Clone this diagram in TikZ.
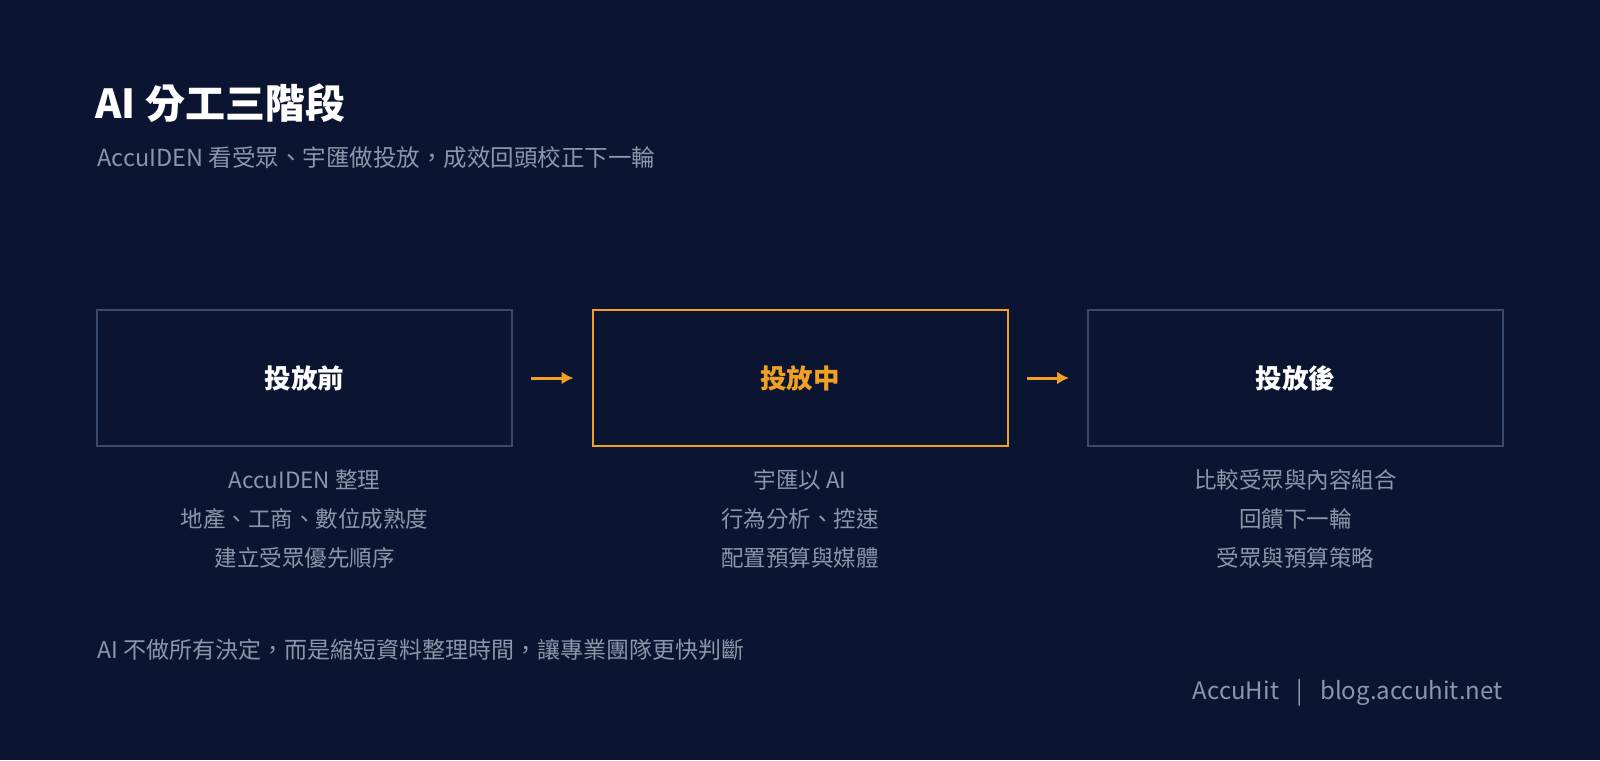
\documentclass[tikz,border=0pt]{standalone}
\usepackage{fontspec}
\setmainfont{Noto Sans CJK TC}
\usetikzlibrary{positioning}
\definecolor{bg}{HTML}{0B1531}
\definecolor{frame}{HTML}{3A4A6C}
\definecolor{accent}{HTML}{F0A024}
\definecolor{muted}{HTML}{8C96AA}
\tikzset{
  stage/.style={draw=frame, line width=2pt, minimum width=415pt, minimum height=136pt, font=\fontsize{26.5}{30}\selectfont\bfseries, text=white},
  note/.style={text=muted, font=\fontsize{22.5}{39}\selectfont, align=center, anchor=north},
  flow/.style={draw=accent, line width=3pt, -{Latex[length=12pt,width=13pt]}}
}
\usetikzlibrary{arrows.meta}
\begin{document}
\begin{tikzpicture}[x=1pt,y=-1pt]
\fill[bg] (0,0) rectangle (1600,760);

\node[anchor=west, text=white, font=\fontsize{40}{44}\selectfont\bfseries] (title) at (92,103) {AI 分工三階段};
\node[anchor=west, text=muted, font=\fontsize{23.5}{28}\selectfont] (sub) at (94,158) {AccuIDEN 看受眾、宇匯做投放，成效回頭校正下一輪};

\node[stage] (pre) at (304.5,378) {投放前};
\node[stage, draw=accent, text=accent] (mid) at (800,378) {投放中};
\node[stage] (post) at (1295.5,378) {投放後};

\draw[flow] ([xshift=18pt]pre.east) -- ([xshift=-18pt]mid.west);
\draw[flow] ([xshift=18pt]mid.east) -- ([xshift=-18pt]post.west);

\node[note] (preNote) at (304.5,466) {AccuIDEN 整理\\地產、工商、數位成熟度\\建立受眾優先順序};
\node[note] (midNote) at (800,466) {宇匯以 AI\\行為分析、控速\\配置預算與媒體};
\node[note] (postNote) at (1295.5,466) {比較受眾與內容組合\\回饋下一輪\\受眾與預算策略};

\node[anchor=west, text=muted, font=\fontsize{23}{28}\selectfont] (foot) at (94,650) {AI 不做所有決定，而是縮短資料整理時間，讓專業團隊更快判斷};
\node[anchor=east, text=muted, font=\fontsize{24}{28}\selectfont] (brand) at (1506,693) {AccuHit \enspace\textbar\enspace\ blog.accuhit.net};
\end{tikzpicture}
\end{document}
